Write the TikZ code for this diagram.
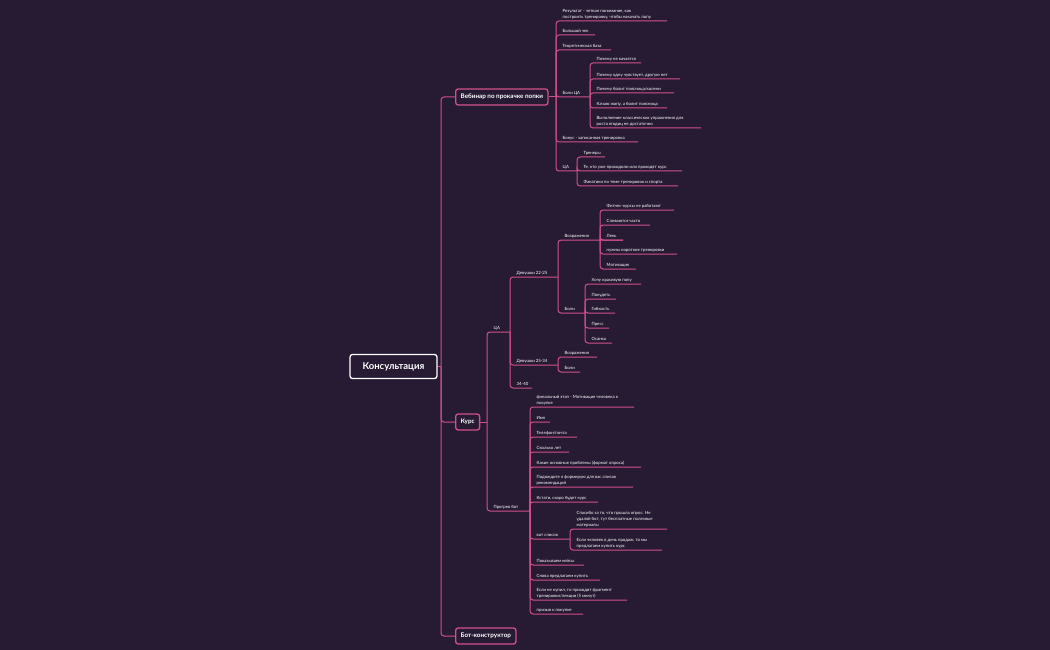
\documentclass[tikz,border=0pt]{standalone}
\usepackage{fontspec}
\setmainfont{Lato}
\begin{document}
\begin{tikzpicture}[x=1pt,y=-1pt,
  link/.style={draw=lk,line width=1pt,rounded corners=3pt},
  leaf/.style={text=white,font=\fontsize{4.3}{6}\selectfont,inner sep=0pt,align=left},
  box/.style={draw=lk,line width=1.3pt,fill=bg,rounded corners=2.5pt,text=white,font=\fontsize{6.3}{7}\selectfont\bfseries,minimum height=16pt,inner xsep=5pt}]
\definecolor{bg}{HTML}{261B33}
\definecolor{lk}{HTML}{D2508A}
\newcommand\mmleaf[6]{\coordinate (#1-s) at (#2,#3); \coordinate (#1-e) at (#5,#4);
  \node[leaf,anchor=south west] (#1) at (#2+6.5,#4-2) {#6}; \draw[link] (#1-s) |- (#1-e);}
\fill[bg] (0,0) rectangle (1050,650);
\useasboundingbox (0,0) rectangle (1050,650);
% root
\node[draw=white,line width=1.3pt,fill=bg,rounded corners=2.5pt,text=white,font=\fontsize{9.5}{10}\selectfont\bfseries,minimum width=87pt,minimum height=24pt] (root) at (393.5,366.5) {Консультация};
\node[box,anchor=west] (veb) at (455,97) {Вебинар по прокачке попки};
\node[box,anchor=west] (kurs) at (455,422) {Курс};
\node[box,anchor=west] (bot) at (455,636) {Бот-конструктор};
\coordinate (rb) at (441,366.5);
\draw[link] (root.east) -- (rb);
\draw[link] (rb) |- (veb.west);
\draw[link] (rb) |- (kurs.west);
\draw[link] (rb) |- (bot.west);
% webinar
\draw[link] (veb.east) -- (556,97);
\mmleaf{w1}{556}{97}{21}{667}{Результат - четкое понимание, как\\построить тренировку, чтобы накачать попу}
\mmleaf{w2}{556}{97}{35}{595}{Большой чек}
\mmleaf{w3}{556}{97}{50}{611}{Теоретическая база}
\mmleaf{w4}{556}{97}{97}{590}{Боли ЦА}
\mmleaf{w5}{556}{97}{142}{638}{Бонус - записанная тренировка}
\mmleaf{w6}{556}{97}{171}{577}{ЦА}
\mmleaf{b1}{590}{97}{63}{641}{Почему не качается}
\mmleaf{b2}{590}{97}{79}{680}{Почему одну чувствует, другую нет}
\mmleaf{b3}{590}{97}{93}{674}{Почему болит поясница/колени}
\mmleaf{b4}{590}{97}{108}{667}{Качаю жопу, а болит поясница}
\mmleaf{b5}{590}{97}{128}{701}{Выполнение классических упражнения для\\роста ягодиц не достаточно}
\mmleaf{c1}{577}{171}{157}{605}{Тренеры}
\mmleaf{c2}{577}{171}{171}{682}{Те, кто уже проходили или проходят курс}
\mmleaf{c3}{577}{171}{186}{678}{Фанатики по теме тренировок и спорта}
% kurs
\draw[link] (kurs.east) -- (487,422);
\mmleaf{k1}{487}{422}{332}{510}{ЦА}
\mmleaf{k2}{487}{422}{511}{530}{Прогрев бот}
\mmleaf{d1}{510}{332}{277}{558}{Девушки 22-25}
\mmleaf{d2}{510}{332}{365}{558}{Девушки 25-34}
\mmleaf{d3}{510}{332}{388}{532}{34-40}
\mmleaf{v1}{558}{277}{240}{623}{Возражения}
\mmleaf{v2}{558}{277}{313}{585}{Боли}
\mmleaf{o1}{600}{240}{210}{674}{Фитнес-курсы не работают}
\mmleaf{o2}{600}{240}{225}{650}{Сливаются часто}
\mmleaf{o3}{600}{240}{240}{623}{Лень}
\mmleaf{o4}{600}{240}{254}{677}{нужны короткие тренировки}
\mmleaf{o5}{600}{240}{269}{636}{Мотивация}
\mmleaf{p1}{585}{313}{284}{641}{Хочу красивую попу}
\mmleaf{p2}{585}{313}{299}{616}{Похудеть}
\mmleaf{p3}{585}{313}{313}{615}{Гибкость}
\mmleaf{p4}{585}{313}{328}{609}{Пресс}
\mmleaf{p5}{585}{313}{343}{612}{Осанка}
\mmleaf{e1}{558}{365}{357}{597}{Возражения}
\mmleaf{e2}{558}{365}{372}{580}{Боли}
% progrev
\mmleaf{g1}{530}{511}{407}{634}{финальный этап - Мотивация человека к\\покупке}
\mmleaf{g2}{530}{511}{422}{550}{Имя}
\mmleaf{g3}{530}{511}{437}{577}{Телефон/почта}
\mmleaf{g4}{530}{511}{452}{569}{Сколько лет}
\mmleaf{g5}{530}{511}{467}{641}{Какие основные проблемы (формат опроса)}
\mmleaf{g6}{530}{511}{487}{633}{Подождите я формирую для вас список\\рекомендаций}
\mmleaf{g7}{530}{511}{502}{598}{Кстати, скоро будет курс}
\mmleaf{g8}{530}{511}{539}{570}{вот список}
\mmleaf{g9}{530}{511}{565}{584}{Показываем кейсы}
\mmleaf{g10}{530}{511}{580}{600}{Снова предлагаем купить}
\mmleaf{g11}{530}{511}{600}{627}{Если не купил, то приходит фрагмент\\тренировки/лекции (5 минут)}
\mmleaf{g12}{530}{511}{614}{583}{призыв к покупке}
\mmleaf{s1}{570}{539}{529}{667}{Спасибо за то, что прошла опрос. Не\\удаляй бот, тут бесплатные полезные\\материалы}
\mmleaf{s2}{570}{539}{550}{662}{Если человек в день продаж, то мы\\предлагаем купить курс}
\end{tikzpicture}
\end{document}
